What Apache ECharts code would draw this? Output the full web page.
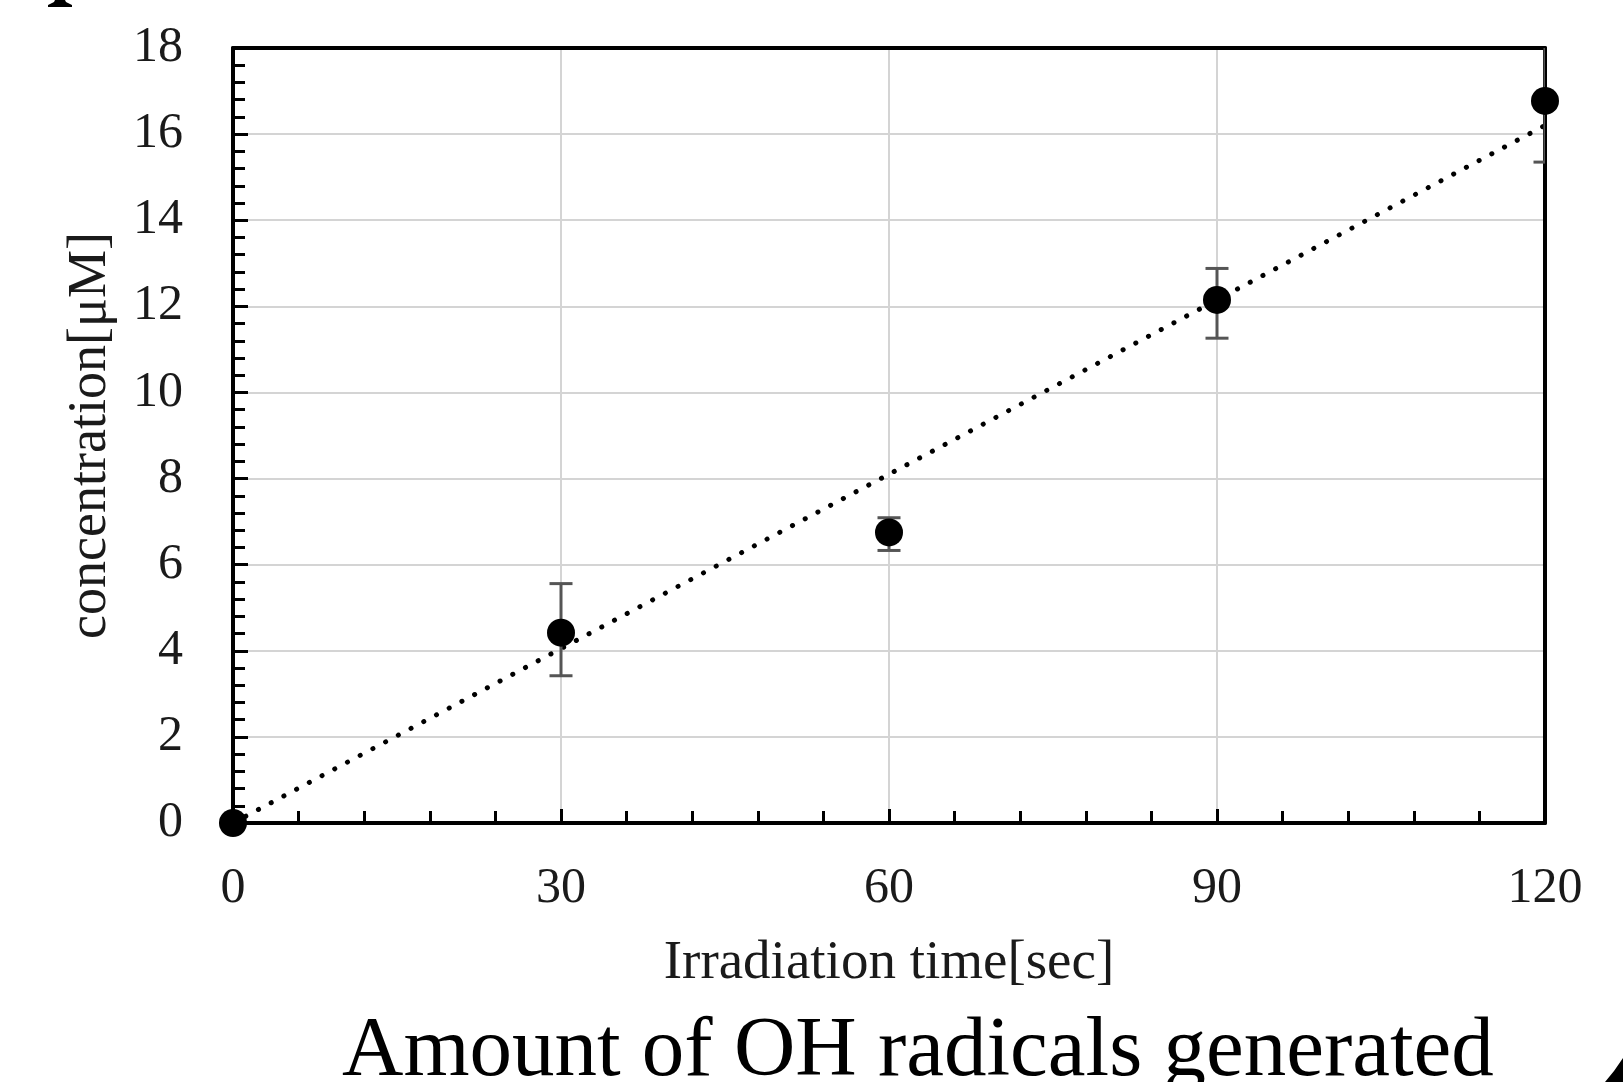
<!DOCTYPE html>
<html>
<head>
<meta charset="utf-8">
<script src="https://cdn.jsdelivr.net/npm/echarts@6/dist/echarts.min.js"></script>
<style>
html,body{margin:0;padding:0;background:#fff;}
#chart{width:1623px;height:1082px;}
</style>
</head>
<body>
<div id="chart"></div>
<script>
// Data
const timeSec = [0, 30, 60, 90, 120];
const concentration = [0, 4.42, 6.75, 12.15, 16.77];
const errLow = [null, 3.42, 6.33, 11.26, 15.35];
const errHigh = [null, 5.56, 7.09, 12.88, 18.2];
const trendX = [0, 120];
const trendY = [0, 16.2];
const xTicks = [0, 30, 60, 90, 120];
const yTicks = [0, 2, 4, 6, 8, 10, 12, 14, 16, 18];

const FONT = '"Liberation Serif", "DejaVu Serif", serif';

const points = timeSec.map((t, i) => [t, concentration[i]]);
const errData = [];
timeSec.forEach((t, i) => { if (errLow[i] !== null) errData.push([t, errLow[i], errHigh[i]]); });
const trendData = trendX.map((x, i) => [x, trendY[i]]);

const xMin = xTicks[0], xMax = xTicks[xTicks.length - 1];
const yMin = yTicks[0], yMax = yTicks[yTicks.length - 1];

const chart = echarts.init(document.getElementById('chart'), null, {renderer: 'canvas'});
chart.setOption({
  backgroundColor: '#fff',
  animation: false,
  grid: {left: 233, right: 78, top: 48, bottom: 259, show: false},
  xAxis: [{
    type: 'value', min: xMin, max: xMax, interval: 30,
    name: 'Irradiation time[sec]', nameLocation: 'middle', nameGap: 113, nameMoveOverlap: false,
    nameTextStyle: {fontFamily: FONT, fontSize: 55, color: '#1a1a1a'},
    axisLine: {show: true, lineStyle: {color: '#000', width: 4}},
    axisTick: {show: true, inside: true, length: 14, lineStyle: {color: '#000', width: 3}},
    minorTick: {show: true, splitNumber: 5, length: 12, lineStyle: {color: '#000', width: 3}},
    axisLabel: {fontFamily: FONT, fontSize: 50, color: '#1a1a1a', margin: 41},
    splitLine: {show: true, lineStyle: {color: '#d4d4d4', width: 2}},
    minorSplitLine: {show: false}
  }, {
    type: 'value', position: 'top', min: xMin, max: xMax, interval: 30,
    axisLine: {show: true, onZero: false, lineStyle: {color: '#000', width: 4}},
    axisTick: {show: false}, minorTick: {show: false}, axisLabel: {show: false},
    splitLine: {show: false}
  }],
  yAxis: [{
    type: 'value', min: yMin, max: yMax, interval: 2,
    name: 'concentration[\u03bcM]', nameLocation: 'middle', nameGap: 115, nameMoveOverlap: false,
    nameTextStyle: {fontFamily: FONT, fontSize: 54, color: '#1a1a1a'},
    axisLine: {show: true, lineStyle: {color: '#000', width: 4}},
    axisTick: {show: true, inside: true, length: 15, lineStyle: {color: '#000', width: 3}},
    minorTick: {show: true, splitNumber: 5, length: 12, lineStyle: {color: '#000', width: 3}},
    axisLabel: {fontFamily: FONT, fontSize: 50, color: '#1a1a1a', margin: 50},
    splitLine: {show: true, lineStyle: {color: '#d4d4d4', width: 2}},
    minorSplitLine: {show: false}
  }, {
    type: 'value', position: 'right', min: yMin, max: yMax, interval: 2,
    axisLine: {show: true, onZero: false, lineStyle: {color: '#000', width: 4}},
    axisTick: {show: false}, minorTick: {show: false}, axisLabel: {show: false},
    splitLine: {show: false}
  }],
  series: [
    {
      type: 'line', data: trendData, symbol: 'none', z: 2, silent: true,
      lineStyle: {color: '#000', width: 5, type: [0.1, 14.3], cap: 'round'}
    },
    {
      type: 'custom', data: errData, z: 3, clip: true,
      renderItem: function (params, api) {
        const x = api.value(0), lo = api.value(1), hi = api.value(2);
        const pl = api.coord([x, lo]);
        const ph = api.coord([x, hi]);
        const hw = 11.5;
        const st = {stroke: '#555', lineWidth: 3};
        return {
          type: 'group',
          children: [
            {type: 'line', shape: {x1: pl[0], y1: pl[1], x2: ph[0], y2: ph[1]}, style: st},
            {type: 'line', shape: {x1: pl[0] - hw, y1: pl[1], x2: pl[0] + hw, y2: pl[1]}, style: st},
            {type: 'line', shape: {x1: ph[0] - hw, y1: ph[1], x2: ph[0] + hw, y2: ph[1]}, style: st}
          ]
        };
      }
    },
    {
      type: 'scatter', data: points, symbol: 'circle', symbolSize: 28, z: 4, clip: false,
      itemStyle: {color: '#000', opacity: 1}
    }
  ],
  graphic: [
    {
      type: 'text', left: 342, top: 1010,
      style: {text: 'Amount of OH radicals generated', font: '85px ' + FONT, fill: '#000'}
    },
    {
      type: 'polygon',
      shape: {points: [[48, 7], [72, 7], [72, 5], [66, 2], [65, 0], [55, 0], [54, 2], [48, 5]]},
      style: {fill: '#000'}
    },
    {
      type: 'polygon',
      shape: {points: [[1605, 1082], [1614, 1071], [1623, 1058], [1623, 1082]]},
      style: {fill: '#000'}
    }
  ]
});
</script>
</body>
</html>
